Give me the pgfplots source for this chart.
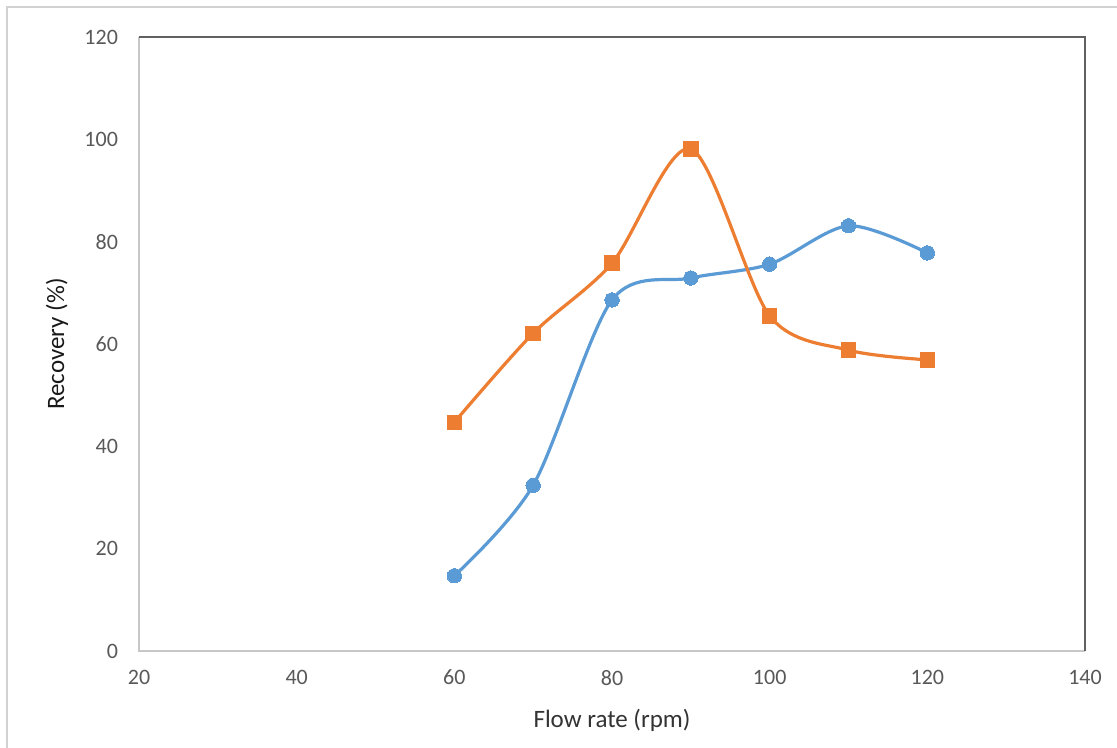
\documentclass[border=0pt]{standalone}
\usepackage{pgfplots}
\pgfplotsset{compat=1.18}
\usepackage{fontspec}
\setmainfont{Carlito}
\definecolor{xlblue}{HTML}{5B9BD5}
\definecolor{xlorange}{HTML}{ED7D31}
\definecolor{ticktext}{HTML}{595959}
\begin{document}
\begin{tikzpicture}
\useasboundingbox (-69.5pt,-48.5pt) rectangle (489pt,325.5pt);
\fill[white] (-69.5pt,-48.5pt) rectangle (489pt,325.5pt);
\draw[line width=1.2pt, color=black!18] (-66pt,-49pt) -- (-66pt,322pt) -- (490pt,322pt);
\begin{axis}[
  at={(0,0)}, anchor=south west,
  scale only axis,
  width=473pt, height=307pt,
  xmin=20, xmax=140, ymin=0, ymax=120,
  xtick={20,40,...,140}, ytick={0,20,...,120},
  major tick length=0pt,
  axis line style={draw=none},
  font=\fontsize{11pt}{13pt}\selectfont,
  ticklabel style={text=ticktext},
  /pgf/number format/assume math mode=true,
  xticklabel style={yshift=-6pt},
  yticklabel style={xshift=-7pt},
  xlabel={Flow rate (rpm)},
  ylabel={Recovery (\%)},
  xlabel style={font=\fontsize{12.5pt}{14pt}\selectfont, text=black!80, at={(rel axis cs:0.5,0)}, anchor=center, yshift=-34.5pt},
  ylabel style={font=\fontsize{12.5pt}{14pt}\selectfont, text=black!90, at={(rel axis cs:0,0.5)}, anchor=center, yshift=41pt},
  clip=false,
]
\draw[color=black!22, line width=0.7pt] (rel axis cs:0,1) -- (rel axis cs:0,0) -- (rel axis cs:1,0);
\draw[color=black!62, line width=1.1pt] (rel axis cs:0,1) -- (rel axis cs:1,1) -- (rel axis cs:1,0);
\addplot[color=xlblue, line width=1.6pt, smooth, tension=0.5, mark=*, mark size=3.6pt, mark options={fill=xlblue, draw=xlblue, line width=0pt}]
  coordinates {(60,14.7) (70,32.4) (80,68.6) (90,72.9) (100,75.6) (110,83.1) (120,77.8)};
\addplot[color=xlorange, line width=1.6pt, smooth, tension=0.5, mark=square*, mark size=3.6pt, mark options={fill=xlorange, draw=xlorange, line width=0pt}]
  coordinates {(60,44.7) (70,62.1) (80,75.8) (90,98.1) (100,65.5) (110,58.8) (120,56.9)};
\end{axis}
\end{tikzpicture}
\end{document}
